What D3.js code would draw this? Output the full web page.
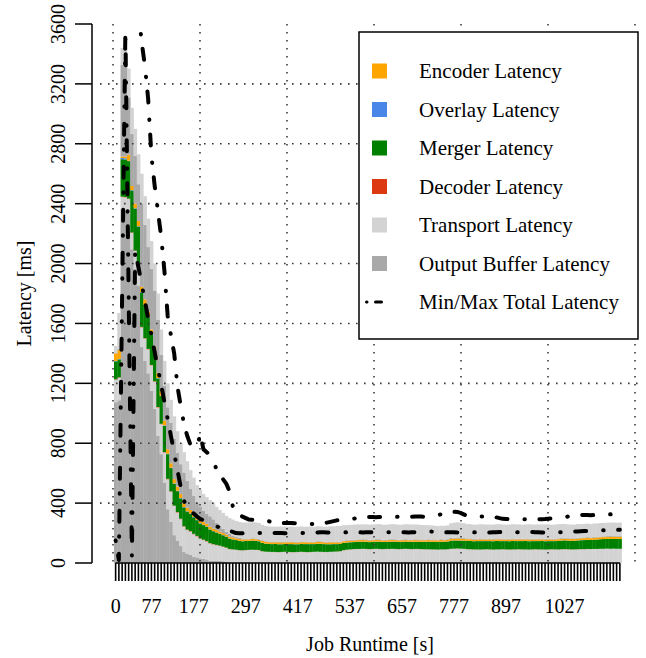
<!DOCTYPE html>
<html><head><meta charset="utf-8">
<script src="https://cdn.jsdelivr.net/npm/d3@7"></script>
<style>body{margin:0;background:#fff}svg{display:block}</style>
</head><body>
<svg id="c" width="646" height="658"></svg>
<script>
// ---------------- DATA ----------------
const N = 156; // number of time bars
const xTickBar  = [0, 11, 24, 40, 56, 72, 88, 104, 120, 138];
const xTickText = ["0","77","177","297","417","537","657","777","897","1027"];
const yTicks = [0,400,800,1200,1600,2000,2400,2800,3200,3600];

const legendNames = ["Encoder Latency","Overlay Latency","Merger Latency","Decoder Latency","Transport Latency","Output Buffer Latency","Min/Max Total Latency"];

// stacked layers (bottom -> top), ms
const outputBuffer1 = [1074,1087,2364,2352,2331,2095,1964,1854,1444,1349,1267,1150,1031,849,727,538,359,276,186,147,113,73,60,55,42,38,31,28,24,16,14,14,14,12,8,2,1,0,0,0,
0,0,0,0,0,0,0,0,0,0,0,0,0,0,0,0,0,0,0,0,0,0,0,0,0,0,0,0,0,0,0,0,0,0,0,0,0,0,0,0,0,0,0,0,0,0,0,0,0,0,0,0,0,0,0,0,0,0,0,0,
0,0,0,0,0,0,0,0,0,0,0,0,0,0,0,0,0,0,0,0,0,0,0,0,0,0,0,0,0,0,0,0,0,0,0,0,0,0,0,0,0,0,0,0,0,0];
const transport1 = [150,150,80,90,100,110,120,120,130,150,160,170,180,190,200,200,200,200,195,190,180,170,160,155,150,140,130,125,120,115,110,105,100,96,93,90,89,88,85,84,
86,87,88,87,86,
78,75,74,73,73,72,73,74,73,72,72,73,74,73,72,73,74,75,74,73,73,74,75,76,78,
85,88,90,92,93,93,94,93,92,93,94,93,92,93,93,94,93,92,93,94,93,92,93,93,92,91,91,90,
90,89,90,90,91,
94,95,96,95,94,
92,91,90,90,89,90,91,90,89,90,90,91,90,89,90,90,91,90,90,89,90,91,90,90,89,90,91,90,90,91,92,91,90,90,91,92,92,93,93,94,94,
95,95,96,95,96,95,95];
const decoder = [3,3,3,3,3,3,3,3,3,3,3,3,3,3,3,3,3,3,3,3,3,3,3,3,3,3,3,3,3,2,2,2,2,2,2,2,1,1,1,1,
1,1,1,1,1,1,1,1,1,1,1,1,1,1,1,1,1,1,1,1,1,1,1,1,1,1,1,1,1,1,1,1,1,1,1,1,1,1,1,1,1,1,1,1,1,1,1,1,1,1,1,1,1,1,1,1,1,1,1,1,
1,1,1,1,1,1,1,1,1,1,1,1,1,1,1,1,1,1,1,1,1,1,1,1,1,1,1,1,1,1,1,1,1,1,1,1,1,1,1,1,1,1,1,1,1,1];
const merger = [120,120,250,250,250,280,280,270,230,220,210,200,195,190,185,175,165,155,145,140,135,125,120,115,110,105,100,97,94,90,86,82,78,75,72,68,66,64,62,60,
60,59,60,60,58,
55,53,52,52,53,52,51,52,52,53,52,51,52,52,53,52,51,52,53,52,51,50,50,49,48,
48,47,47,46,47,48,47,47,46,47,47,48,47,46,47,47,48,47,46,47,47,48,47,47,48,49,49,50,
50,50,51,50,51,
53,54,53,53,54,
55,55,54,55,56,55,54,55,55,56,55,54,55,55,56,55,54,55,56,55,55,54,55,56,55,55,54,55,56,57,58,57,56,57,58,59,60,60,61,62,63,
64,65,65,66,65,66,66];
const overlay = [3,3,8,8,3,3,3,3,3,3,3,3,3,3,3,3,3,3,3,3,3,3,3,3,3,3,3,3,3,2,2,2,2,2,2,2,1,1,1,1,
1,1,1,1,1,1,1,1,1,1,1,1,1,1,1,1,1,1,1,1,1,1,1,1,1,1,1,1,1,1,1,1,1,1,1,1,1,1,1,1,1,1,1,1,1,1,1,1,1,1,1,1,1,1,1,1,1,1,1,1,
1,1,1,1,1,1,1,1,1,1,1,1,1,1,1,1,1,1,1,1,1,1,1,1,1,1,1,1,1,1,1,1,1,1,1,1,1,1,1,1,1,1,1,1,1,1];
const encoder = [50,60,10,12,40,27,30,34,35,35,35,34,33,32,32,31,30,29,28,27,26,25,24,23,22,21,20,19,18,17,16,15,14,13,13,12,12,11,11,11,
10,10,11,10,10,
12,12,11,11,11,12,11,11,11,12,11,11,11,12,11,11,11,12,11,11,11,12,11,11,10,
10,10,11,10,10,10,11,10,10,10,11,10,10,10,11,10,10,10,11,10,10,10,11,10,10,10,11,10,
10,10,11,10,10,
12,12,13,12,12,
10,11,10,10,11,10,10,11,10,10,11,10,10,11,10,10,11,10,10,11,10,10,11,10,10,11,10,10,11,10,11,11,12,11,12,12,12,13,12,13,13,
13,13,14,13,14,13,14];
const outputBuffer2 = [5,7,613,613,379,348,320,246,555,500,432,405,375,358,240,235,280,269,270,225,200,206,180,141,120,95,91,75,68,70,62,48,37,29,19,18,14,10,8,7,
5,5,5,5,5,
5,4,5,5,4,5,5,4,5,5,4,5,5,4,5,5,4,5,5,4,5,5,4,5,5,
5,5,5,6,5,5,5,6,5,5,5,6,5,5,5,6,5,5,5,6,5,5,5,6,5,5,5,5,
5,5,5,5,5,
6,6,7,6,6,
5,5,5,5,6,5,5,5,5,6,5,5,5,5,6,5,5,5,5,6,5,5,5,5,6,5,5,5,5,6,5,5,5,5,6,5,5,5,5,6,5,
5,5,5,6,5,5,5];
const transport2 = [45,240,112,112,196,174,180,200,200,190,190,185,180,175,170,165,160,155,150,145,140,135,130,125,120,115,112,110,110,108,108,107,107,106,106,106,106,106,106,106,
107,108,107,107,106,
103,101,100,100,99,100,101,100,99,100,100,101,100,99,100,101,100,100,99,100,101,102,103,104,105,
102,101,100,100,101,100,99,100,101,100,100,101,100,99,100,101,100,100,99,100,101,100,99,98,97,96,95,94,
92,91,90,91,92,
98,100,101,100,98,
96,95,95,94,95,96,95,94,95,95,96,95,94,95,95,96,95,94,95,96,95,95,94,95,96,95,94,95,95,94,93,92,92,91,91,90,90,90,89,89,89,
90,90,89,90,91,90,90];

const minTotal = [150,20,1790,3560,1800,50,2080,1977,1863,1750,1636,1523,1410,1296,1189,1075,962,848,735,621,508,414,380,350,330,310,295,285,275,265,255,245,237,230,222,215,208,
200,199,199,200,201,200,199,200,201,200,199,200,200,201,200,199,200,201,200,199,200,200,201,202,203,204,205,205,204,205,
205,206,205,204,205,206,207,206,205,204,205,206,205,204,205,206,207,206,205,204,205,206,205,204,205,206,207,208,210,212,
210,208,206,205,204,205,206,205,204,205,206,207,206,205,204,205,206,205,204,205,206,207,206,205,204,205,206,205,204,205,
206,207,206,205,204,205,206,205,204,205,206,207,208,209,
210,211,212,213,214,215,216,217,218,218,219,220,220,221,222];
const maxTotal = [4800,5400,5600,5300,4900,4500,4100,3700,3480,3320,3100,2720,2520,2350,2180,1950,1650,1520,1400,1180,1050,930,850,790,780,770,860,760,740,720,700,620,580,560,530,480,380,340,320,310,300,
290,289,288,288,287,287,
280,272,268,267,266,267,268,267,266,265,263,
260,259,260,261,260,262,265,270,275,
280,285,287,288,287,290,295,300,303,
305,307,308,307,306,307,308,307,306,307,308,309,
310,311,310,309,310,311,310,309,310,311,315,320,325,330,
338,340,342,341,335,325,
315,311,310,309,310,311,310,309,308,305,300,
295,294,293,292,293,294,293,292,293,294,293,292,293,294,296,298,
300,303,305,307,310,313,
316,318,320,321,320,319,320,321,322,
323,324,325,326,327,327];

// ---------------- DRAWING ----------------
const FONT = "'Liberation Serif','Times New Roman',Times,serif";
const svg = d3.select("#c");
const x = d3.scaleBand().domain(d3.range(N)).range([114, 621.5]).padding(0);
const y = d3.scaleLinear().domain([0, 3600]).range([563, 24]);
const gx = d3.scaleLinear().domain([0, 6]).range([113, 635]);
const plotL = 100, plotR = 641;

const keys = ["ob1","t1","dec","mer","ovl","enc","ob2","t2"];
const colors = {ob1:"#A9A9A9", t1:"#D3D3D3", dec:"#DC3912", mer:"#008000", ovl:"#4A86E8", enc:"#FFA500", ob2:"#A9A9A9", t2:"#D3D3D3"};
const rows = d3.range(N).map(i => ({ob1:outputBuffer1[i], t1:transport1[i], dec:decoder[i], mer:merger[i], ovl:overlay[i], enc:encoder[i], ob2:outputBuffer2[i], t2:transport2[i]}));
const series = d3.stack().keys(keys)(rows);

svg.append("g").selectAll("g").data(series).join("g")
  .attr("fill", d => colors[d.key])
  .selectAll("rect").data(d => d).join("rect")
  .attr("x", (d, i) => x(i))
  .attr("width", x.bandwidth() + 0.35)
  .attr("y", d => y(d[1]))
  .attr("height", d => Math.max(0, y(d[0]) - y(d[1])));

// grid (on top of bars)
const grid = svg.append("g").attr("stroke", "#3a3a3a").attr("stroke-width", 1.6).attr("stroke-dasharray", "1.6,6.4").attr("fill", "none");
grid.selectAll("line.h").data(yTicks.filter(v => v > 0 && v < 3600)).join("line")
  .attr("x1", plotL).attr("x2", plotR).attr("y1", d => y(d)).attr("y2", d => y(d));
grid.selectAll("line.v").data(d3.range(0, 7)).join("line")
  .attr("x1", d => gx(d)).attr("x2", d => gx(d)).attr("y1", y(3600)).attr("y2", y(0));

// min / max lines
svg.append("clipPath").attr("id", "clip").append("rect").attr("x", plotL).attr("y", 24).attr("width", plotR - plotL).attr("height", 563 - 24);
const line = d3.line().x((d, i) => x(i) + x.bandwidth() / 2).y(d => y(d));
const lg = svg.append("g").attr("clip-path", "url(#clip)");
[minTotal, maxTotal].forEach(arr => {
  lg.append("path").attr("d", line(arr)).attr("fill", "none").attr("stroke", "#000")
    .attr("stroke-width", 4).attr("stroke-linecap", "round").attr("stroke-linejoin", "round")
    .attr("stroke-dasharray", "0.5,14.5,11,17");
});

// y axis
const ya = svg.append("g");
ya.append("line").attr("x1", 92).attr("x2", 92).attr("y1", y(0)).attr("y2", y(3600)).attr("stroke", "#000").attr("stroke-width", 1.5);
ya.selectAll("line.t").data(yTicks).join("line").attr("x1", 75).attr("x2", 92).attr("y1", d => y(d)).attr("y2", d => y(d)).attr("stroke", "#000").attr("stroke-width", 1.5);
ya.selectAll("text").data(yTicks).join("text")
  .attr("transform", d => `translate(65,${y(d)}) rotate(-90)`)
  .attr("text-anchor", "middle").attr("font-family", FONT).attr("font-size", 20).text(d => d);

// x axis
const xa = svg.append("g");
xa.append("line").attr("x1", x(0) + x.bandwidth()/2).attr("x2", x(N-1) + x.bandwidth()/2).attr("y1", 563).attr("y2", 563).attr("stroke", "#000").attr("stroke-width", 1.5);
xa.selectAll("line.t").data(d3.range(N)).join("line")
  .attr("x1", d => x(d) + x.bandwidth()/2).attr("x2", d => x(d) + x.bandwidth()/2)
  .attr("y1", 563).attr("y2", 581).attr("stroke", "#000").attr("stroke-width", 1.6);
xa.selectAll("text").data(xTickBar).join("text")
  .attr("x", d => x(d) + x.bandwidth()/2).attr("y", 613)
  .attr("text-anchor", "middle").attr("font-family", FONT).attr("font-size", 20)
  .text((d, i) => xTickText[i]);

// axis titles
svg.append("text").attr("transform", "translate(31,293.5) rotate(-90)").attr("text-anchor", "middle")
  .attr("font-family", FONT).attr("font-size", 20).text("Latency [ms]");
svg.append("text").attr("x", 370).attr("y", 651).attr("text-anchor", "middle")
  .attr("font-family", FONT).attr("font-size", 20).text("Job Runtime [s]");

// legend
const leg = svg.append("g");
leg.append("rect").attr("x", 359).attr("y", 32).attr("width", 279).attr("height", 307)
  .attr("fill", "#fff").attr("stroke", "#000").attr("stroke-width", 1.5);
const legColors = ["#FFA500","#4A86E8","#008000","#DC3912","#D3D3D3","#A9A9A9"];
const ly = d3.scaleLinear().domain([0, 6]).range([71, 302]);
leg.selectAll("rect.sw").data(legColors).join("rect")
  .attr("x", 372).attr("y", (d, i) => ly(i) - 7.5).attr("width", 15).attr("height", 15).attr("fill", d => d);
leg.selectAll("text").data(legendNames).join("text")
  .attr("x", 419).attr("y", (d, i) => ly(i)).attr("dy", "0.35em")
  .attr("font-family", FONT).attr("font-size", 21).text(d => d);
leg.append("path").attr("d", d3.line()([[366.5, ly(6)], [384, ly(6)]]))
  .attr("stroke", "#000").attr("stroke-width", 3).attr("stroke-linecap", "round")
  .attr("stroke-dasharray", "0.5,8.5,6,20").attr("fill", "none");
</script>
</body></html>
